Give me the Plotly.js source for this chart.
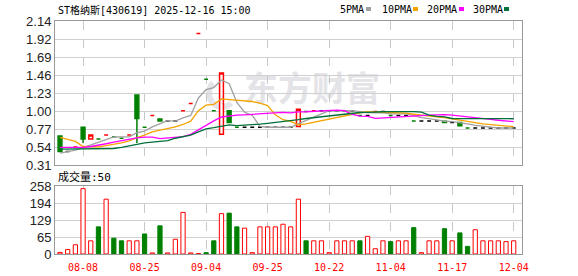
<!DOCTYPE html>
<html><head><meta charset="utf-8">
<script src="https://cdn.plot.ly/plotly-3.0.1.min.js"></script>
<style>
html,body{margin:0;padding:0;background:#fff;}
#wrap{position:relative;width:578px;height:276px;overflow:hidden;}
#wm{position:absolute;left:244px;top:70px;font-family:"Noto Sans CJK SC";font-size:34px;font-weight:700;color:#e4e4e8;line-height:1;z-index:0;white-space:nowrap;}
#logo{position:absolute;left:206px;top:76px;width:20px;height:22px;border-radius:50%;border:6px solid #e4e4e8;border-right-color:transparent;border-top-color:transparent;z-index:0;}
#chart{position:absolute;left:0;top:0;width:578px;height:276px;z-index:1;}
</style></head>
<body><div id="wrap"><div id="logo"></div><div id="wm">东方财富</div><div id="chart"></div></div>
<script>
// ---- data ----
const title = 'ST格纳斯[430619] 2025-12-16 15:00';
const tickLabels = ['08-08','08-25','09-04','09-25','10-22','11-04','11-17','12-04'];
const priceTicks = ['0.31','0.54','0.77','1.00','1.23','1.46','1.69','1.92','2.14'];
const volTicks = ['0','65','129','194','258'];
const maNames = ['5PMA','10PMA','20PMA','30PMA'];

const open  = [0.68,0.48,0.54,0.79,0.64,0.64,0.69,0.67,0.65,0.69,
               1.20,0.79,0.94,0.895,0.87,0.87,1.00,1.09,1.98,1.40,
               1.00,0.70,1.00,0.79,0.79,0.79,0.79,0.79,0.79,0.79,
               0.79,0.80,0.99,1.00,1.00,1.00,1.00,1.00,1.00,0.94,
               0.94,0.99,0.99,0.94,0.94,0.94,0.87,0.87,0.87,0.87,
               0.865,0.85,0.85,0.78,0.78,0.78,0.78,0.78,0.78,0.78];
const high  = [0.68,0.48,0.54,0.79,0.69,0.64,0.69,0.67,0.65,0.69,
               1.20,0.79,0.94,0.895,0.87,0.87,1.00,1.09,1.98,1.40,
               1.00,1.48,1.00,0.79,0.79,0.79,0.79,0.79,0.79,0.79,
               0.79,1.02,0.99,1.00,1.00,1.00,1.00,1.00,1.00,0.94,
               0.94,0.99,0.99,0.94,0.94,0.94,0.87,0.87,0.87,0.87,
               0.865,0.85,0.85,0.78,0.78,0.78,0.78,0.78,0.78,0.78];
const low   = [0.48,0.48,0.54,0.59,0.64,0.64,0.69,0.67,0.65,0.69,
               0.59,0.79,0.94,0.87,0.87,0.87,1.00,1.09,1.98,1.40,
               1.00,0.70,0.85,0.79,0.79,0.79,0.79,0.79,0.79,0.79,
               0.79,0.80,0.99,1.00,1.00,1.00,1.00,1.00,1.00,0.94,
               0.94,0.99,0.99,0.94,0.94,0.94,0.87,0.87,0.87,0.87,
               0.85,0.85,0.81,0.78,0.78,0.78,0.78,0.78,0.78,0.78];
const close = [0.48,0.48,0.54,0.64,0.69,0.64,0.69,0.67,0.65,0.69,
               0.90,0.79,0.94,0.87,0.87,0.87,1.00,1.09,1.98,1.40,
               1.00,1.48,0.85,0.79,0.79,0.79,0.79,0.79,0.79,0.79,
               0.79,1.02,0.99,1.00,1.00,1.00,1.00,1.00,1.00,0.94,
               0.94,0.99,0.99,0.94,0.94,0.94,0.87,0.87,0.87,0.87,
               0.85,0.85,0.81,0.78,0.78,0.78,0.78,0.78,0.78,0.78];
const volume = [6,17,35,248,50,103,208,60,50,50,
                50,76,4,107,4,56,158,4,2,5,
                50,153,155,103,98,5,103,103,103,113,
                103,208,50,50,50,5,50,50,50,50,
                67,20,50,47,50,50,100,5,50,50,
                96,50,80,29,92,50,50,50,47,50];
const ma5  = [0.46,0.48,0.50,0.53,0.566,0.598,0.640,0.666,0.668,0.668,
              0.720,0.740,0.794,0.838,0.874,0.868,0.910,0.940,1.162,1.268,
              1.294,1.390,1.342,1.104,0.982,0.940,0.802,0.790,0.790,0.790,
              0.790,0.836,0.876,0.918,0.960,1.002,0.998,1.000,1.000,0.988,
              0.976,0.974,0.972,0.960,0.960,0.960,0.936,0.912,0.898,0.884,
              0.866,0.862,0.850,0.832,0.814,0.800,0.786,0.780,0.780,0.780];
const ma10 = [0.66,0.635,0.61,0.545,0.54,0.54,0.555,0.57,0.59,0.617,
              0.659,0.690,0.730,0.753,0.771,0.794,0.825,0.867,1.000,1.071,
              1.081,1.150,1.141,1.133,1.125,1.117,1.096,1.066,0.947,0.886,
              0.865,0.819,0.833,0.854,0.875,0.896,0.917,0.938,0.959,0.974,
              0.989,0.986,0.986,0.980,0.974,0.968,0.955,0.942,0.929,0.922,
              0.913,0.899,0.881,0.865,0.849,0.833,0.824,0.815,0.806,0.797];
const ma20 = [0.535,0.535,0.535,0.535,0.545,0.56,0.58,0.60,0.62,0.635,
              0.655,0.665,0.665,0.645,0.655,0.665,0.67,0.70,0.76,0.82,
              0.87,0.920,0.936,0.943,0.948,0.956,0.961,0.967,0.974,0.979,
              0.973,0.985,0.987,0.994,1.000,1.007,1.007,1.002,0.953,0.930,
              0.927,0.903,0.910,0.917,0.925,0.932,0.936,0.940,0.944,0.948,
              0.951,0.943,0.934,0.923,0.912,0.901,0.890,0.879,0.868,0.860];
const ma30 = [0.513,0.513,0.513,0.513,0.513,0.513,0.515,0.52,0.535,0.555,
              0.575,0.59,0.60,0.612,0.62,0.65,0.67,0.69,0.73,0.77,
              0.785,0.805,0.82,0.81,0.815,0.825,0.83,0.84,0.85,0.858,
              0.868,0.886,0.901,0.913,0.924,0.936,0.946,0.957,0.969,0.977,
              0.978,0.985,0.987,0.989,0.991,0.994,0.989,0.982,0.945,0.927,
              0.922,0.901,0.900,0.900,0.899,0.899,0.899,0.898,0.898,0.898];

// ---- styles ----
const RED = '#ff0000', GREEN = '#008000', BLACK = '#000000';
const maColors = ['#a0a0a0','#f5a300','#ff00ff','#00703a'];
const FRAME = '#999999';
const MONO = '"DejaVu Sans Mono", "Noto Sans CJK SC", monospace';

const N = close.length;
const idx = Array.from({length:N}, (_, i) => i);
function dirOf(i){
  if (close[i] > open[i]) return 'up';
  if (close[i] < open[i]) return 'down';
  const p = i > 0 ? close[i-1] : close[i];
  return close[i] > p ? 'up' : (close[i] < p ? 'down' : 'flat');
}
function candle(group, col, incFill, decFill){
  const ii = idx.filter(i => dirOf(i) === group);
  return {type:'candlestick', x: ii,
    open: ii.map(i=>open[i]), high: ii.map(i=>high[i]), low: ii.map(i=>low[i]), close: ii.map(i=>close[i]),
    xaxis:'x', yaxis:'y', whiskerwidth:0, hoverinfo:'skip', showlegend:false,
    increasing:{line:{color:col, width:1.5}, fillcolor:incFill},
    decreasing:{line:{color:col, width:1.5}, fillcolor:decFill}};
}
const volUp = idx.map(i => i === 0 || close[i] >= close[i-1]);

const traces = [
  candle('up', RED, '#ffffff', RED),
  candle('down', GREEN, GREEN, GREEN),
  candle('flat', BLACK, BLACK, BLACK),
];
[ma5, ma10, ma20, ma30].forEach((m, k) => traces.push({
  type:'scatter', mode:'lines', x: idx, y: m, xaxis:'x', yaxis:'y',
  line:{color: maColors[k], width:1.3}, hoverinfo:'skip', showlegend:false, name: maNames[k]}));
traces.push({type:'bar', x: idx, y: volume, xaxis:'x2', yaxis:'y2', width:0.55,
  marker:{color: volUp.map(u => u ? '#ffffff' : GREEN), line:{color: volUp.map(u => u ? RED : GREEN), width:1}},
  hoverinfo:'skip', showlegend:false});

// ---- layout ----
const L = 55, R = 522, T = 21, B = 254;
const px = x => (x - L) / (R - L);
const py = y => (B - y) / (B - T);
const xr = [-0.65, 60.08];
const tickIdx = tickLabels.map((_, k) => 3 + 8*k);
const pMin = 0.31, pMax = 2.14;
const priceVals = priceTicks.map((_, k) => pMin + k*(pMax - pMin)/(priceTicks.length - 1));
const vMax = 258;
const volVals = volTicks.map((_, k) => k*vMax/(volTicks.length - 1));

const axisCommon = {showline:true, mirror:true, linecolor:FRAME, linewidth:1, zeroline:false, fixedrange:true};
const annFont = {family: MONO, size:10, color:'#000'};
const legX = [339, 381, 426, 472];
const sqX = [366, 413, 459, 504];
const annotations = [
  {xref:'paper', yref:'paper', x:px(56), y:py(9.5), xanchor:'left', yanchor:'middle', text:title, showarrow:false, font:annFont},
  {xref:'paper', yref:'paper', x:px(56), y:py(177), xanchor:'left', yanchor:'middle', text:'成交量:' + volume[N-1], showarrow:false,
   font:{family: MONO, size:11, color:'#000'}},
];
const shapes = [];
maNames.forEach((n, k) => {
  annotations.push({xref:'paper', yref:'paper', x:px(legX[k]-1), y:py(9.5), xanchor:'left', yanchor:'middle', text:n, showarrow:false, font:annFont});
  shapes.push({type:'rect', xref:'paper', yref:'paper', x0:px(sqX[k]), x1:px(sqX[k]+5), y0:py(11), y1:py(7),
    fillcolor: maColors[k], line:{width:0}});
});

const layout = {
  width:578, height:276, margin:{l:L, r:578-R, t:T, b:276-B, pad:0},
  paper_bgcolor:'rgba(0,0,0,0)', plot_bgcolor:'rgba(0,0,0,0)', showlegend:false,
  boxgap:0.5, boxgroupgap:0, hovermode:false,
  xaxis: Object.assign({}, axisCommon, {domain:[0,1], anchor:'y', range:xr, rangeslider:{visible:false},
    tickmode:'array', tickvals:tickIdx, showticklabels:false, ticks:'',
    showgrid:true, gridcolor:'#c8c8c8', griddash:'dash', gridwidth:1}),
  yaxis: Object.assign({}, axisCommon, {domain:[py(165),1], anchor:'x', range:[pMin-1e-6, pMax+1e-6],
    tickmode:'array', tickvals:priceVals, ticktext:priceTicks, ticks:'',
    showgrid:true, gridcolor:'#d0d0d0', gridwidth:1,
    tickfont:{family:'"Liberation Sans", Arial, sans-serif', size:13, color:'#222'}}),
  xaxis2: Object.assign({}, axisCommon, {domain:[0,1], anchor:'y2', matches:'x', range:xr, rangeslider:{visible:false},
    tickmode:'array', tickvals:tickIdx, ticktext:tickLabels, ticks:'outside', ticklen:4, tickcolor:'rgba(0,0,0,0)',
    showgrid:true, gridcolor:'#c8c8c8', griddash:'dash', gridwidth:1,
    tickfont:{family: MONO, size:10, color:RED}}),
  yaxis2: Object.assign({}, axisCommon, {domain:[0, py(186)], anchor:'x2', range:[0, vMax+1e-6],
    tickmode:'array', tickvals:volVals, ticktext:volTicks, ticks:'',
    showgrid:true, gridcolor:'#d0d0d0', gridwidth:1,
    tickfont:{family:'"Liberation Sans", Arial, sans-serif', size:13, color:'#222'}}),
  annotations, shapes
};
Plotly.newPlot('chart', traces, layout, {staticPlot:true, displayModeBar:false});
</script></body></html>
